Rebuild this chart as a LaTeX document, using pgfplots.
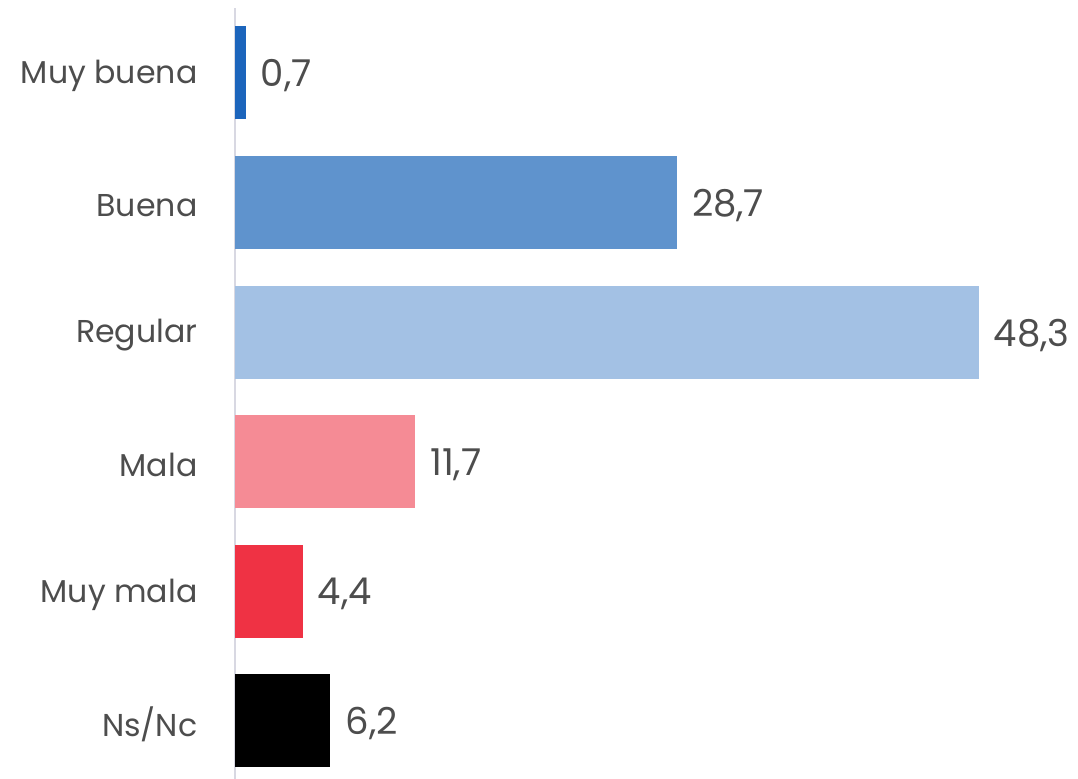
\documentclass[border=0pt]{standalone}
\usepackage{pgfplots}
\pgfplotsset{compat=1.18}
\usepackage{fontspec}
\setmainfont{Poppins}
\definecolor{txt}{HTML}{4D4D4D}
\definecolor{c1}{HTML}{1C65BC}
\definecolor{c2}{HTML}{5F93CD}
\definecolor{c3}{HTML}{A3C1E4}
\definecolor{c4}{HTML}{F58B95}
\definecolor{c5}{HTML}{EF3244}
\definecolor{c6}{HTML}{000000}
\definecolor{axc}{HTML}{D8D8E2}
\begin{document}
\begin{tikzpicture}
\useasboundingbox (0,0) rectangle (539pt,389.5pt);
\begin{axis}[
  at={(117.5pt,0pt)}, anchor=south west,
  scale only axis, width=415.8pt, height=385.5pt,
  xmin=0, xmax=54, ymin=-0.4475, ymax=5.5015,
  axis x line=none,
  axis y line=left,
  y axis line style={draw=axc, line width=1pt, -},
  ytick={0,1,2,3,4,5},
  yticklabels={Ns/Nc, Muy mala, Mala, Regular, Buena, Muy buena},
  ytick style={draw=none},
  yticklabel style={font=\fontsize{15.8}{18}\selectfont, text=txt, xshift=-11pt, yshift=-1.5pt},
  xbar, bar width=46.5pt, bar shift=0pt,
  nodes near coords,
  every node near coord/.append style={font=\fontsize{18.5}{21}\selectfont, text=txt, anchor=west, xshift=4pt, yshift=-1.5pt},
  point meta=explicit symbolic,
]
\addplot[fill=c1, draw=none] coordinates {(0.7,5) [0,7]};
\addplot[fill=c2, draw=none] coordinates {(28.7,4) [28,7]};
\addplot[fill=c3, draw=none] coordinates {(48.3,3) [48,3]};
\addplot[fill=c4, draw=none] coordinates {(11.7,2) [11,7]};
\addplot[fill=c5, draw=none] coordinates {(4.4,1) [4,4]};
\addplot[fill=c6, draw=none] coordinates {(6.2,0) [6,2]};
\end{axis}
\end{tikzpicture}
\end{document}
